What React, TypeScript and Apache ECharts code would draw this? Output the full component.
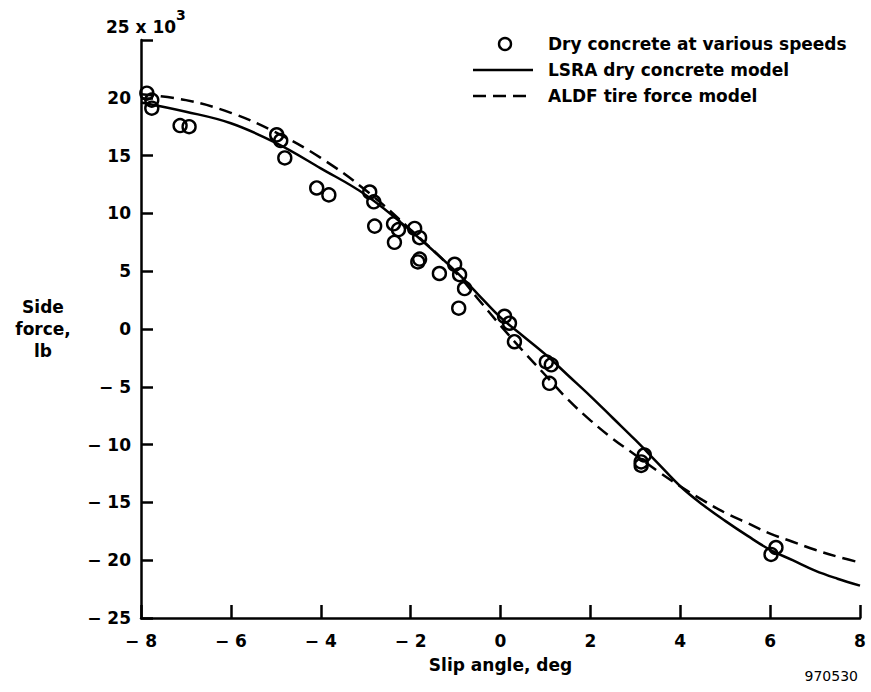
import React, { useEffect, useRef } from "react";
import * as echarts from "echarts";

// Measured side force (x = slip angle deg, y = side force ×10^3 lb)
const dryConcreteX = [-7.87, -7.76, -7.76, -7.13, -6.93, -4.98, -4.89, -4.8, -4.09, -3.82, -2.91, -2.82, -2.8, -2.38, -2.27, -2.36, -1.91, -1.8, -1.84, -1.8, -1.36, -1.02, -0.91, -0.8, -0.93, 0.09, 0.2, 0.31, 1.02, 1.13, 1.09, 3.2, 3.13, 3.13, 6.02, 6.13];
const dryConcreteY = [20.4, 19.8, 19.1, 17.6, 17.5, 16.8, 16.3, 14.8, 12.2, 11.6, 11.85, 11.0, 8.9, 9.1, 8.6, 7.5, 8.7, 7.9, 5.8, 6.05, 4.8, 5.6, 4.7, 3.5, 1.8, 1.1, 0.5, -1.1, -2.85, -3.1, -4.7, -10.9, -11.5, -11.8, -19.5, -18.9];

// Model curves
const modelX = [-8, -7, -6, -5, -4, -3, -2, -1, -0.5, 0, 0.5, 1, 1.5, 2, 2.5, 3, 3.5, 4, 4.5, 5, 5.5, 6, 6.5, 7, 7.5, 8];
const lsraY = [19.6, 18.8, 17.8, 16.1, 13.9, 11.6, 8.5, 5.0, 3.0, 1.0, -0.6, -2.2, -4.0, -5.8, -7.7, -9.6, -11.6, -13.6, -15.2, -16.6, -17.9, -19.1, -20.0, -20.9, -21.6, -22.2];
const aldfY = [20.3, 19.8, 18.7, 17.0, 14.8, 12.0, 8.6, 4.9, 2.6, 0.3, -1.9, -4.0, -6.1, -7.9, -9.5, -10.9, -12.3, -13.6, -14.8, -15.9, -16.8, -17.7, -18.4, -19.1, -19.7, -20.2];

const xTicks = { min: -8, max: 8, interval: 2 };
const yTicks = { min: -25, max: 25, interval: 5 };

const legendLabels = ["Dry concrete at various speeds", "LSRA dry concrete model", "ALDF tire force model"];

const FONT = "'DejaVu Sans', 'Liberation Sans', Arial, sans-serif";

export default function App() {
  const ref = useRef<HTMLDivElement>(null);
  useEffect(() => {
    if (!ref.current) return;
    const chart = echarts.init(ref.current, null, { renderer: "svg" });
    const fmtNeg = (v: number) => (v < 0 ? "\u2212 " + Math.abs(v) : String(v));
    chart.setOption({
      animation: false,
      backgroundColor: "#fff",
      grid: { left: 141, right: 11, top: 40, bottom: 74 },
      xAxis: {
        type: "value",
        min: xTicks.min,
        max: xTicks.max,
        interval: xTicks.interval,
        name: "Slip angle, deg",
        nameLocation: "middle",
        nameGap: 38,
        nameTextStyle: { fontFamily: FONT, fontWeight: "bold", fontSize: 17, color: "#000" },
        axisLine: { onZero: false, lineStyle: { color: "#000", width: 2.5 } },
        axisTick: { inside: true, length: 13, lineStyle: { color: "#000", width: 2.5 } },
        axisLabel: { margin: 14, formatter: fmtNeg, fontFamily: FONT, fontWeight: "bold", fontSize: 17, color: "#000" },
        splitLine: { show: false },
      },
      yAxis: {
        type: "value",
        min: yTicks.min,
        max: yTicks.max,
        interval: yTicks.interval,
        axisLine: { onZero: false, lineStyle: { color: "#000", width: 2.5 } },
        axisTick: { inside: true, length: 12, lineStyle: { color: "#000", width: 2.5 } },
        axisLabel: {
          margin: 10,
          formatter: (v: number) => (v === 25 ? "" : fmtNeg(v)),
          fontFamily: FONT,
          fontWeight: "bold",
          fontSize: 17,
          color: "#000",
        },
        splitLine: { show: false },
      },
      series: [
        {
          name: legendLabels[1],
          type: "line",
          data: modelX.map((x, i) => [x, lsraY[i]]),
          smooth: 0.4,
          symbol: "none",
          lineStyle: { color: "#000", width: 2.5, type: "solid" },
        },
        {
          name: legendLabels[2],
          type: "line",
          data: modelX.map((x, i) => [x, aldfY[i]]),
          smooth: 0.4,
          symbol: "none",
          lineStyle: { color: "#000", width: 2.5, type: [13, 7] },
        },
        {
          name: legendLabels[0],
          type: "scatter",
          data: dryConcreteX.map((x, i) => [x, dryConcreteY[i]]),
          symbol: "circle",
          symbolSize: 13,
          itemStyle: { color: "transparent", borderColor: "#000", borderWidth: 2.4, opacity: 1 },
          z: 5,
        },
      ],
      graphic: [
        {
          type: "text",
          left: 106,
          top: 8,
          style: {
            text: "{a|25 x 10}{b|3}",
            rich: {
              a: { fontFamily: FONT, fontWeight: "bold", fontSize: 17, fill: "#000", verticalAlign: "bottom", padding: [10, 0, 0, 0] },
              b: { fontFamily: FONT, fontWeight: "bold", fontSize: 14, fill: "#000", verticalAlign: "top" },
            },
          },
        },
        {
          type: "text",
          x: 43,
          y: 296,
          style: {
            text: "Side\nforce,\nlb",
            align: "center",
            lineHeight: 22,
            fontFamily: FONT,
            fontWeight: "bold",
            fontSize: 17,
            fill: "#000",
          },
        },
        {
          type: "text",
          right: 13,
          top: 669,
          style: { text: "970530", fontFamily: FONT, fontSize: 14, fill: "#000" },
        },
        // legend
        { type: "circle", shape: { cx: 505, cy: 44, r: 6 }, style: { fill: "none", stroke: "#000", lineWidth: 2.4 } },
        { type: "line", shape: { x1: 473, y1: 70, x2: 533, y2: 70 }, style: { stroke: "#000", lineWidth: 2.5 } },
        { type: "line", shape: { x1: 473, y1: 96, x2: 533, y2: 96 }, style: { stroke: "#000", lineWidth: 2.5, lineDash: [13, 7] } },
        ...legendLabels.map((t, i) => ({
          type: "text",
          x: 548,
          y: 44 + i * 26,
          style: { text: t, fontFamily: FONT, fontWeight: "bold", fontSize: 17, fill: "#000", verticalAlign: "middle" },
        })),
      ],
    });
    return () => chart.dispose();
  }, []);
  return <div ref={ref} style={{ position: "absolute", left: 0, top: 0, width: 871, height: 692 }} />;
}
